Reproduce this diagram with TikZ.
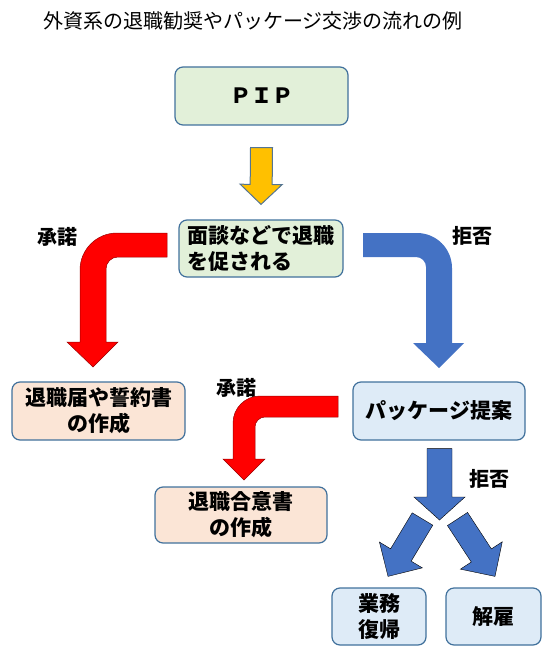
\documentclass[tikz,border=0pt]{standalone}
\usepackage{fontspec}
\setmainfont{Noto Sans CJK JP}
\usetikzlibrary{calc}
\definecolor{BoxLine}{RGB}{65,113,156}
\definecolor{GreenFill}{RGB}{226,240,217}
\definecolor{PeachFill}{RGB}{251,229,214}
\definecolor{BlueFill}{RGB}{222,235,247}
\definecolor{ArrowBlue}{RGB}{68,114,196}
\definecolor{ArrowRed}{RGB}{255,0,0}
\definecolor{ArrowYellow}{RGB}{255,192,0}

\tikzset{
  flowbox/.style={draw=BoxLine, line width=1.2pt, rounded corners=8pt,
    inner sep=0pt, align=center, font=\bfseries\fontsize{21}{26}\selectfont},
  greenbox/.style={flowbox, fill=GreenFill},
  peachbox/.style={flowbox, fill=PeachFill},
  bluebox/.style={flowbox, fill=BlueFill},
  answer/.style={font=\bfseries\fontsize{20}{24}\selectfont},
  redarrow/.style={fill=ArrowRed, draw=ArrowRed!60!black, line width=0.5pt},
  bluearrow/.style={fill=ArrowBlue},
  yellowarrow/.style={fill=ArrowYellow, draw=BoxLine!70!gray, line width=1pt}
}

% straight block arrow: style, start, tip, shaft half width, head half width, head length
\newcommand{\blockarrow}[6]{%
  \coordinate (ba-c) at ($(#3)!#6!(#2)$);
  \filldraw[#1] ($(#2)!#4!90:(#3)$) -- ($(ba-c)!#4!-90:(#2)$)
    -- ($(ba-c)!#5!-90:(#2)$) -- (#3) -- ($(ba-c)!#5!90:(#2)$)
    -- ($(ba-c)!#4!90:(#2)$) -- ($(#2)!#4!-90:(#3)$) -- cycle;
}

\begin{document}
\begin{tikzpicture}[x=1pt, y=-1pt]
  \useasboundingbox (0,0) rectangle (550,660);

  \node[font=\fontsize{20}{24}\selectfont] (title) at (253,21)
    {外資系の退職勧奨やパッケージ交渉の流れの例};

  % boxes
  \node[greenbox, minimum width=173pt, minimum height=58pt] (pip) at (261.5,96) {ＰＩＰ};
  \node[greenbox, minimum width=164pt, minimum height=57pt, align=left] (talk) at (261,248.5)
    {面談などで退職\\を促される};
  \node[peachbox, minimum width=173pt, minimum height=58pt] (letter) at (98.5,411)
    {退職届や誓約書\\の作成};
  \node[bluebox, minimum width=172pt, minimum height=58pt] (pkg) at (439,411) {パッケージ提案};
  \node[peachbox, minimum width=172pt, minimum height=56pt] (agree) at (241,515)
    {退職合意書\\の作成};
  \node[bluebox, minimum width=94pt, minimum height=57pt] (back) at (379,616.5)
    {業務\\復帰};
  \node[bluebox, minimum width=95pt, minimum height=57pt] (fire) at (493.5,616.5) {解雇};

  % labels
  \node[answer] (yes1) at (57,237) {承諾};
  \node[answer] (no1) at (472,236) {拒否};
  \node[answer] (yes2) at (236,388) {承諾};
  \node[answer] (no2) at (489,479) {拒否};

  % PIP -> talk
  \coordinate (y-start) at ($(pip.south)+(0,22)$);
  \coordinate (y-tip) at ($(talk.north)+(0,-15)$);
  \blockarrow{yellowarrow}{y-start}{y-tip}{11pt}{21pt}{20pt}

  % talk -> letter (accept)
  \filldraw[redarrow] (167,233) [rounded corners=37pt] -- (80,233) [sharp corners] -- (80,342)
    -- (67,342) -- (93,367) -- (118,342) -- (106,342)
    [rounded corners=12pt] -- (106,257) [sharp corners] -- (167,257) -- cycle;

  % talk -> pkg (refuse)
  \fill[bluearrow] (363,233) [rounded corners=35pt] -- (452,233) [sharp corners] -- (452,343)
    -- (464,343) -- (439,368) -- (413,343) -- (426,343)
    [rounded corners=10pt] -- (426,257) [sharp corners] -- (363,257) -- cycle;

  % pkg -> agree (accept)
  \filldraw[redarrow] (338,396) [rounded corners=27pt] -- (233,396) [sharp corners] -- (233,459)
    -- (223,459) -- (244,480) -- (265,459) -- (255,459)
    [rounded corners=10pt] -- (255,417) [sharp corners] -- (338,417) -- cycle;

  % pkg -> back / fire (refuse)
  \coordinate (f-start) at ($(pkg.south)+(0.5,8)$);
  \coordinate (f-tip) at (439.5,520);
  \blockarrow{bluearrow}{f-start}{f-tip}{12.5pt}{25.5pt}{23pt}
  \coordinate (l-start) at (422.5,519);
  \coordinate (l-tip) at ($(back.north)+(9,-11)$);
  \blockarrow{bluearrow}{l-start}{l-tip}{12pt}{25pt}{25pt}
  \coordinate (r-start) at (457.5,519);
  \coordinate (r-tip) at ($(fire.north)+(1.5,-11)$);
  \blockarrow{bluearrow}{r-start}{r-tip}{12pt}{25pt}{25pt}
\end{tikzpicture}
\end{document}
